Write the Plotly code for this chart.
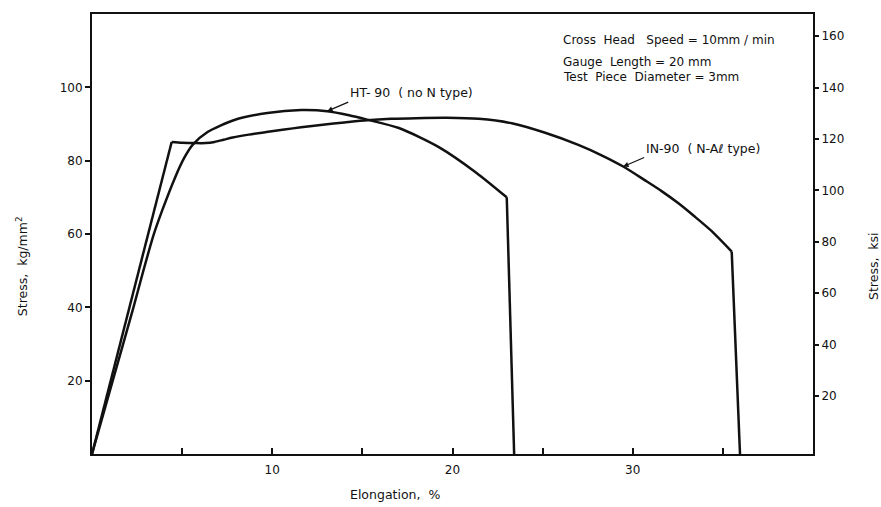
import plotly.graph_objects as go

# ---- data ----
elong_in90 = [0, 4.42, 5.0, 5.69, 6.3, 6.8, 7.3, 7.8, 8.7, 9.67, 10.67, 11.6, 12.8, 14.0,
              15.26, 16.6, 17.97, 19.7, 21.45, 23.29, 25.14, 26.98, 28.3, 29.47, 30.66,
              31.6, 32.5, 33.4, 34.35, 35.49, 35.95]
stress_in90 = [0, 85.1, 84.9, 84.8, 84.8, 85.1, 85.7, 86.3, 87.1, 87.8, 88.5, 89.1, 89.8, 90.4,
               91.0, 91.4, 91.6, 91.7, 91.4, 90.2, 87.6, 84.3, 81.4, 78.4, 74.7,
               71.7, 68.5, 64.9, 60.9, 55.2, 0]

elong_ht90 = [0, 1.15, 2.3, 2.85, 3.4, 3.9, 4.6, 5.1, 5.58, 6.41, 7.9, 9.73, 11.61, 13.05,
              14.26, 15.26, 17.03, 19.24, 21.3, 23.01, 23.42]
stress_ht90 = [0, 20.0, 40.0, 50.0, 59.5, 66.5, 75.3, 80.6, 84.3, 87.8, 91.1, 93.0, 93.8, 93.5,
               92.4, 91.2, 88.9, 83.7, 76.8, 70.0, 0]

x_label_ticks = [10, 20, 30]
x_minor_ticks = [5, 15, 25, 35]
y_tick_vals = [20, 40, 60, 80, 100]
ksi_tick_vals = [20, 40, 60, 80, 100, 120, 140, 160]
KSI_PER_KGMM2 = 1.4223

label_ht90 = "HT- 90  ( no N type)"
label_in90 = "IN-90  ( N-A<i>ℓ</i> type)"
test_notes = ["Cross  Head   Speed = 10mm / min",
              "Gauge  Length = 20 mm",
              "Test  Piece  Diameter = 3mm"]

FONT = "DejaVu Sans"
INK = "#111111"
LINE = dict(color=INK, width=2.5)

fig = go.Figure()


def add_piece(xs, ys, shape):
    line = dict(LINE)
    line["shape"] = shape
    if shape == "spline":
        line["smoothing"] = 0.7
    fig.add_trace(go.Scatter(x=xs, y=ys, mode="lines", line=line,
                             showlegend=False, hoverinfo="skip"))


# IN-90: elastic line, smooth plastic curve, fracture drop
add_piece(elong_in90[0:2], stress_in90[0:2], "linear")
add_piece(elong_in90[1:30], stress_in90[1:30], "spline")
add_piece(elong_in90[29:31], stress_in90[29:31], "linear")
# HT-90: smooth rise and fall, fracture drop
n_ht = len(elong_ht90)
add_piece(elong_ht90[0:n_ht - 1], stress_ht90[0:n_ht - 1], "spline")
add_piece(elong_ht90[n_ht - 2:], stress_ht90[n_ht - 2:], "linear")

# invisible trace on the ksi axis so that axis is drawn
fig.add_trace(go.Scatter(x=elong_in90, y=[s * KSI_PER_KGMM2 for s in stress_in90],
                         mode="lines", line=dict(width=0, color="rgba(0,0,0,0)"),
                         yaxis="y2", showlegend=False, hoverinfo="skip"))

tickfont = dict(family=FONT, size=12, color=INK)

fig.update_layout(
    width=881, height=507,
    margin=dict(l=92, r=68, t=14, b=53),
    paper_bgcolor="white", plot_bgcolor="white",
    showlegend=False,
    xaxis=dict(range=[0, 40], tickvals=x_label_ticks,
               ticks="inside", ticklen=6, tickwidth=1.5, tickcolor=INK,
               minor=dict(tickvals=x_minor_ticks, ticks="inside", ticklen=6,
                          tickwidth=1.5, tickcolor=INK, showgrid=False),
               showline=True, linewidth=2, linecolor=INK, mirror=True,
               showgrid=False, zeroline=False, tickfont=tickfont, ticklabelstandoff=4),
    yaxis=dict(range=[0, 120], tickvals=y_tick_vals,
               ticks="outside", ticklen=5, tickwidth=1.5, tickcolor=INK,
               showline=True, linewidth=2, linecolor=INK,
               showgrid=False, zeroline=False, tickfont=tickfont),
    yaxis2=dict(overlaying="y", side="right", range=[-2.55, 168.6],
                tickvals=ksi_tick_vals, ticks="outside", ticklen=4, tickwidth=1.5,
                tickcolor=INK, showline=True, linewidth=2, linecolor=INK,
                showgrid=False, zeroline=False, tickfont=tickfont),
)

ann = []
# axis titles
ann.append(dict(text="Stress,  kg/mm<sup>2</sup>", xref="paper", yref="paper",
                x=-0.097, y=0.427, textangle=-90, showarrow=False,
                font=dict(family=FONT, size=12.5, color=INK), xanchor="center", yanchor="middle"))
ann.append(dict(text="Stress,  ksi", xref="paper", yref="paper",
                x=1.083, y=0.427, textangle=-90, showarrow=False,
                font=dict(family=FONT, size=12.5, color=INK), xanchor="center", yanchor="middle"))
ann.append(dict(text="Elongation,  %", xref="paper", yref="paper",
                x=0.42, y=-0.093, showarrow=False,
                font=dict(family=FONT, size=12.5, color=INK), xanchor="center", yanchor="middle"))
# curve labels with leader arrows pointing at the curves
ann.append(dict(text=label_ht90, x=13.05, y=93.5, xref="x", yref="y",
                showarrow=True, ax=21, ay=-9, arrowhead=2, arrowsize=0.9,
                arrowwidth=1.2, arrowcolor=INK, standoff=0, startstandoff=0,
                xanchor="left", yanchor="bottom", font=dict(family=FONT, size=12.5, color=INK)))
ann.append(dict(text=label_in90, x=29.47, y=78.4, xref="x", yref="y",
                showarrow=True, ax=21, ay=-9, arrowhead=2, arrowsize=0.9,
                arrowwidth=1.2, arrowcolor=INK, standoff=0, startstandoff=0,
                xanchor="left", yanchor="bottom", font=dict(family=FONT, size=12.5, color=INK)))
# test condition notes
for txt, yy in zip(test_notes, [112.9, 107.0, 102.9]):
    ann.append(dict(text=txt, x=26.04, y=yy, xref="x", yref="y", showarrow=False,
                    xanchor="left", yanchor="middle", font=dict(family=FONT, size=12, color=INK)))

fig.update_layout(annotations=ann)
fig.write_html("out.html")
